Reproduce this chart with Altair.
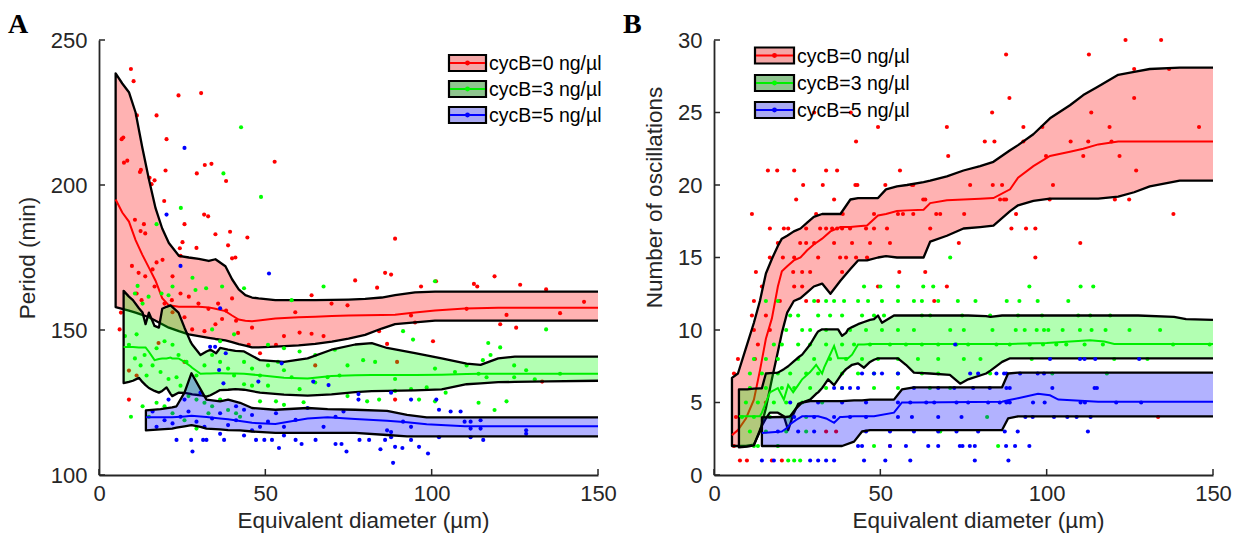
import altair as alt
import pandas as pd

# ---------------- Panel A : period ----------------
A_xticks = [0, 50, 100, 150]
A_yticks = [100, 150, 200, 250]

A_red_band_x = [5, 7, 9, 11, 13, 15, 17, 19, 21, 24, 27, 30, 33, 35, 38, 40, 42, 44, 46, 48, 53, 60, 65, 70, 75, 80, 85, 89, 95, 101, 110, 120, 130, 140, 150]
A_red_up = [238.5, 235, 232, 225, 213, 202, 192, 185, 180, 175.6, 175, 174.5, 173.8, 174.4, 172, 167.5, 164, 162, 161.2, 160.9, 160.3, 160.3, 160.3, 160.4, 160.5, 160.7, 161.2, 162, 163, 163.2, 163.2, 163.2, 163.2, 163.2, 163.2]
A_red_lo = [157.9, 157.3, 156.7, 156, 155.2, 154.4, 153.2, 152, 150.8, 149.6, 148.5, 147.9, 147.3, 146.9, 146.4, 145.8, 145.1, 144.6, 144, 144, 144.3, 144.7, 145.2, 146, 147, 148.3, 150.5, 152, 152.6, 153.2, 153.2, 153.2, 153.2, 153.2, 153.2]
A_red_med = [195, 190.5, 187.4, 181, 176, 171.5, 167, 161, 158.5, 158, 158, 158, 157.8, 157.3, 156.5, 155, 153.6, 153.2, 153, 153.3, 154, 154.4, 154.6, 154.8, 155, 155.1, 155.2, 155.3, 156, 156.7, 157.4, 157.7, 157.7, 157.7, 157.7]

A_green_band_x = [7.4, 9, 10.2, 12, 13.1, 14, 15, 16.7, 18, 19, 20.3, 21.5, 22, 23.9, 25.7, 27.5, 28, 30.5, 32.3, 33.5, 35.2, 36.4, 38.8, 41, 43.6, 48.4, 55.6, 62.7, 69.9, 77, 82, 86.6, 95, 103, 110.5, 114.7, 120, 125, 135, 150]
A_green_up = [163.5, 161.5, 160.3, 157.5, 156, 152, 156, 151.4, 150.8, 157.3, 158, 158.5, 158, 156, 150.8, 146, 145, 141.4, 142.6, 143.2, 142, 143.8, 143.2, 142.8, 142.6, 139.6, 139, 140.2, 143.2, 145, 145.5, 143.8, 142, 140.2, 138.4, 138, 140.2, 140.8, 140.8, 140.8]
A_green_lo = [131.7, 132.1, 132.5, 133.5, 132, 131, 130, 129, 128.4, 129, 130.2, 128, 127.2, 128.4, 128.3, 128, 127.8, 127.5, 127, 127.5, 128.5, 129.3, 129.4, 129.6, 129.4, 128.4, 127.7, 127.4, 127.8, 128.6, 128.9, 129, 129.2, 129.5, 131.3, 131.6, 132, 132.1, 132.3, 132.5]
A_green_med = [144.1, 144.1, 144.1, 144, 144, 144, 142.5, 139.6, 140, 140.2, 140.2, 140.5, 140.2, 140.2, 139, 137.5, 137, 134.9, 135, 135, 135.1, 135.1, 135, 135, 134.9, 134.4, 133.5, 133.3, 134.1, 134.4, 134.5, 134.5, 134.5, 134.6, 134.8, 134.9, 134.9, 134.9, 134.9, 134.9]

A_blue_band_x = [14.1, 18.5, 22, 23.3, 25.7, 27.8, 30.5, 32.3, 36.4, 38.8, 42.4, 46, 53, 62.7, 68.7, 77, 86.6, 92.6, 98.5, 110, 130, 150]
A_blue_up = [122.3, 122.7, 123.3, 123.7, 128.4, 135.1, 129.6, 126, 125.4, 126, 124.9, 123.1, 122.5, 123.1, 122.7, 122.5, 122.1, 120.7, 119.9, 119.9, 119.9, 119.9]
A_blue_lo = [115.4, 115.7, 116, 116.3, 116.8, 117.2, 116.6, 116, 115.7, 115.5, 115.4, 115, 114.5, 114.5, 114.5, 114.5, 113.8, 113.3, 113.3, 113.3, 113.3, 113.3]
A_blue_med = [119.9, 119.9, 119.9, 120, 120.2, 120.4, 120.2, 120, 119.5, 119.2, 118.6, 118, 117.6, 119.5, 119.9, 119.3, 118.7, 118.2, 117.5, 116.8, 116.8, 116.8]

A_red_pts_x = [9.6, 10.4, 11.4, 6.8, 7.5, 12.3, 15.2, 16.7, 17.3, 20.3, 20, 19.6, 23.9, 30.7, 29.4, 31.8, 33.8, 38.2, 52.8, 31.6, 32.8, 35, 39.4, 44.6, 38.8, 40, 41, 25.7, 25.1, 24.3, 29.3, 24.5, 10.8, 13.5, 12.5, 13.9, 9.9, 11.9, 13.9, 16.7, 11.3, 12.8, 6.6, 6.2, 9, 89, 86, 87.8, 77, 83.6, 96.8, 101.3, 118.9, 112.7, 113.7, 126.6, 134.4, 145.8, 138.6, 122.5, 120.6, 125.4, 110.5, 100.4, 93.8, 95, 86.6, 84.2, 74.7, 69.9, 63.9, 59, 60.3, 63.9, 67.5, 55.6, 53.2, 48.4, 46, 41.2, 37, 35, 31.7, 28, 27, 24.5, 21.9, 19.7, 22.1, 25.7, 29.9, 32.9, 35.8, 38.2, 40, 17.3, 16.1, 19.1, 22.1, 41.8, 45, 89, 9, 11.3, 17.9, 25.7, 65, 89.6, 133.2, 7.3, 8.5, 12.6, 15.8]
A_red_pts_y = [240, 235.8, 224, 215.8, 207.7, 204.5, 202.5, 201.6, 224, 215.8, 205, 194.5, 230.9, 231.7, 204, 206.9, 207.3, 201.4, 208, 189.8, 189.2, 183, 183.9, 181.9, 179.2, 174.7, 175, 186.5, 180.3, 178.2, 178.3, 175.6, 188, 186.5, 184.1, 183.3, 172.1, 169.7, 168.5, 165, 162.6, 160.3, 156, 150.2, 126, 181.5, 169.7, 169.1, 167.1, 164.6, 165, 166.8, 168.5, 165.9, 165, 165.6, 164, 159.7, 155.8, 155.2, 152, 150.8, 157.3, 146.1, 155, 152.6, 145.2, 149.6, 158.5, 159.1, 162, 156.1, 149.1, 148.7, 147.9, 147.9, 144.9, 142, 150.8, 153.2, 153.8, 152, 149.6, 150.2, 161.5, 162.6, 160.3, 159.1, 156.1, 154.4, 159.1, 157.3, 159.1, 156.7, 160.9, 173.3, 170.9, 174.2, 168.5, 149, 144.9, 126, 136, 134.3, 145.5, 139, 137.8, 139, 132.2, 216.4, 208.4, 205.2, 200.3]

A_green_pts_x = [42.7, 37.4, 48.7, 24.6, 17.3, 11.6, 10.8, 13.1, 14.9, 18.8, 20.9, 22.1, 28.1, 29, 32.2, 37, 43.6, 57.9, 67.5, 101, 134.4, 91.4, 94.4, 117, 120.6, 117.7, 115.4, 110.5, 101, 107, 124.8, 114.1, 116.5, 128.4, 138.6, 131, 124.8, 122.5, 118.9, 114.1, 101, 96.2, 98.5, 89, 83, 79.4, 74.7, 72.3, 68.7, 65, 60.3, 57.9, 55.6, 53.8, 50.8, 48.4, 46, 43.6, 40.6, 38.8, 36.4, 34, 31.7, 29.3, 26.3, 23.9, 22.1, 19.7, 17.3, 16.1, 14.3, 12.5, 10.8, 9, 7.8, 11.3, 13.7, 18.5, 20.9, 23.3, 24.5, 26.9, 29.3, 31.7, 34, 36.4, 38.8, 41.2, 42.4, 32.9, 29.3, 25.7, 22.1, 19.7, 17.3, 15, 13.1, 9.6, 53.2, 55.6, 48.4, 61.5, 80.6, 84.2, 74.7, 89, 93.8, 104.2, 50.8, 55.6, 40.6, 36.4, 34, 43.6, 46, 50.8, 60.3, 65, 70.9]
A_green_pts_y = [219.9, 204, 195.9, 192.1, 186.5, 165.2, 162.6, 159.1, 161.5, 162.6, 162, 165, 168, 163.8, 164.4, 165, 164.4, 160.3, 165, 166.8, 150.2, 149.6, 146.7, 145.5, 144, 141.4, 139.6, 137.8, 136.7, 135.5, 137.8, 134.9, 133.7, 136.1, 134.9, 133, 133.7, 125.4, 122.4, 124.9, 125.4, 126, 130.2, 133.1, 139, 139.6, 137.8, 134.3, 133.7, 131.9, 129.6, 133.7, 136.1, 139, 137.8, 134.3, 136.7, 131.3, 134.3, 136.7, 139, 141.4, 137.8, 134.3, 139, 141.4, 144.9, 146.1, 143.7, 137.8, 134.3, 137.8, 140.2, 144.9, 147.9, 148.5, 141.4, 135.5, 133.1, 133.7, 130.8, 127.2, 126, 124.9, 123.7, 126, 122.4, 121.3, 120.1, 121.3, 116, 118.9, 121.3, 123.7, 124.9, 120.1, 123.7, 120.1, 125.4, 124.2, 125.4, 125.1, 125.4, 126, 127.2, 129, 129.6, 128.4, 144.9, 143.7, 148.5, 146.1, 150.2, 139, 130.8, 130.8, 142.6, 141.4, 143.2]

A_blue_pts_x = [25.7, 20.3, 51.1, 24.5, 36.4, 33.4, 34.9, 38.1, 36.1, 37.4, 54.9, 47.9, 64.4, 69, 23.3, 27.7, 28.1, 31.3, 32.3, 37.6, 43.6, 47.2, 49.7, 52, 54.1, 55.6, 59.1, 60.9, 65.1, 71.1, 72.9, 74.4, 78.3, 81.2, 84.6, 86, 87.8, 88.4, 89, 91.2, 93.8, 96.2, 98.9, 102.2, 111.7, 115.5, 128.4, 128.4, 78, 78, 87.8, 93.8, 101.4, 105.7, 108.7, 102.2, 109.9, 111.7, 114.7, 114.7, 111.7, 91.4, 93.8, 86.6, 87.8, 73.5, 71.1, 67.5, 62.7, 59.1, 55.6, 53.2, 50.8, 48.4, 46, 43.6, 41.2, 38.8, 36.4, 34, 31.7, 29.3, 26.9, 24.5, 22.1, 19.7, 17.3, 16.1, 25.7, 30.5, 20.9, 41.2, 46, 36.4]
A_blue_pts_y = [212.8, 189.8, 169.5, 172.1, 157.5, 144.2, 144.2, 142, 136.2, 131.6, 138.5, 132.2, 132.2, 131, 112.1, 112.1, 108.1, 112.1, 112.1, 112.1, 113.6, 112.1, 112.1, 112.1, 109.3, 113.6, 112.1, 110.7, 112.1, 110.7, 110.7, 108.1, 112.1, 112.1, 108.9, 112.1, 113, 104.2, 109.7, 109.3, 112.1, 109.7, 107.4, 113, 113, 112.1, 114.2, 115.4, 127.9, 126, 128.4, 126, 126, 121.9, 121.9, 122.5, 118.4, 118.4, 118.9, 116, 116, 118.4, 116.6, 115.4, 114.8, 121.9, 120.1, 116.6, 123.1, 119, 116.6, 121.3, 118.4, 116.6, 120.7, 122.5, 118.9, 117.2, 121.3, 119.5, 116.6, 118.4, 121.9, 120.1, 117.8, 118.9, 116.6, 121.9, 126, 128.4, 126, 123.7, 115.4, 114.2]

# ---------------- Panel B : number of oscillations ----------------
B_xticks = [0, 50, 100, 150]
B_yticks = [0, 5, 10, 15, 20, 25, 30]

B_red_band_x = [5.4, 7.2, 9.6, 12, 13.8, 15.6, 17.4, 19.2, 20.4, 22, 24, 26, 28, 30, 32.5, 35, 38, 41, 43.3, 46, 49.3, 51.7, 55, 58, 63, 65, 70, 75, 80, 84, 89, 91.4, 96, 101, 107, 111, 115.5, 121.5, 126.3, 131, 140, 150]
B_red_up = [6.7, 7.0, 8.75, 10.5, 12.0, 13.9, 14.9, 15.8, 16.3, 16.5, 16.8, 17.0, 17.4, 17.8, 18.0, 18.0, 18.0, 19.0, 19.1, 19.1, 19.1, 19.7, 19.9, 20.0, 20.2, 20.3, 20.6, 21.0, 21.3, 21.6, 22.4, 22.75, 23.5, 24.6, 25.5, 26.2, 26.8, 27.6, 27.8, 28.0, 28.1, 28.1]
B_red_lo = [2.0, 2.0, 2.0, 2.1, 3.0, 4.6, 6.6, 8.5, 9.8, 11.2, 12.0, 12.2, 12.6, 13.0, 13.2, 12.5, 13.4, 14.2, 14.8, 14.8, 15.0, 15.1, 15.0, 15.0, 15.0, 16.1, 16.5, 17.0, 17.1, 17.2, 18.2, 18.6, 18.9, 19.06, 19.06, 19.06, 19.06, 19.2, 19.5, 19.9, 20.3, 20.3]
B_red_med = [2.75, 3.1, 3.9, 5.2, 7.2, 9.4, 10.8, 13.0, 14.05, 14.4, 14.8, 15.0, 15.5, 15.9, 16.3, 16.8, 17.1, 17.1, 17.15, 17.2, 17.9, 18.0, 18.2, 18.25, 18.3, 18.75, 18.95, 19.0, 19.05, 19.1, 19.7, 20.5, 21.3, 22.0, 22.3, 22.5, 22.8, 23.0, 23.0, 23.0, 23.0, 23.0]

B_green_band_x = [7.5, 10, 12, 13.8, 14.4, 15.6, 16.8, 19.2, 21, 22.3, 23.8, 25.3, 26.5, 28.9, 30.7, 31.3, 32.5, 33.1, 34.3, 36.1, 37.3, 38.5, 39.7, 40.3, 41.5, 43.3, 45.1, 46.9, 48.1, 49.3, 50.5, 54.1, 55.3, 57.7, 60.1, 64.9, 70.9, 74, 76.4, 81.8, 83.1, 86.6, 89, 100, 113, 117.3, 120.3, 127.5, 138.3, 141.9, 150]
B_green_up = [5.9, 5.9, 5.95, 5.98, 5.98, 7.0, 7.03, 7.06, 7.3, 7.5, 7.8, 8.1, 8.3, 9.0, 9.7, 9.9, 10.05, 10.05, 10.05, 10.05, 10.05, 9.6, 9.8, 10.05, 10.2, 10.4, 10.55, 10.7, 10.75, 11.0, 10.5, 11.0, 11.0, 11.0, 11.0, 11.0, 11.0, 11.0, 11.0, 10.95, 10.9, 11.0, 11.0, 11.0, 11.0, 11.0, 11.0, 11.0, 10.9, 10.75, 10.7]
B_green_lo = [1.9, 1.95, 2.05, 3.1, 3.4, 3.9, 4.3, 4.3, 4.05, 3.1, 4.15, 4.9, 5.0, 5.2, 5.6, 5.7, 6.0, 6.2, 6.6, 6.2, 6.6, 7.0, 7.3, 7.4, 7.6, 7.7, 7.4, 7.8, 7.95, 8.05, 8.05, 8.05, 8.05, 7.6, 7.06, 7.0, 6.9, 6.3, 6.6, 7.0, 7.2, 7.8, 8.05, 8.05, 8.05, 8.05, 8.05, 8.05, 8.05, 8.05, 8.05]
B_green_med = [4.05, 4.05, 4.05, 4.05, 4.3, 5.0, 5.7, 6.0, 5.2, 6.2, 5.7, 6.2, 6.6, 7.1, 7.6, 7.4, 7.0, 7.4, 8.0, 8.9, 8.05, 8.05, 8.05, 8.05, 8.3, 9.0, 9.0, 9.04, 9.04, 9.04, 9.04, 9.04, 9.04, 9.04, 9.04, 9.04, 9.04, 9.04, 9.04, 9.04, 9.04, 9.04, 9.04, 9.1, 9.3, 9.2, 9.04, 9.04, 9.04, 9.04, 9.04]

B_blue_band_x = [14.4, 20.4, 21.7, 22.9, 24.7, 26.5, 28.9, 31.3, 33.7, 36.1, 37.9, 38.5, 42.1, 44.5, 46.9, 48.1, 54.1, 56.5, 60.1, 86.6, 88.4, 91.4, 97.4, 101, 103.5, 115.5, 150]
B_blue_up = [3.98, 4.0, 4.0, 4.05, 4.6, 5.0, 5.1, 5.1, 5.1, 5.1, 5.1, 5.1, 5.15, 5.15, 5.2, 5.2, 5.2, 5.9, 6.05, 6.05, 7.0, 7.06, 7.06, 7.06, 7.06, 7.06, 7.06]
B_blue_lo = [2.0, 2.0, 2.0, 2.0, 2.0, 2.0, 2.0, 2.0, 2.0, 2.0, 2.0, 2.0, 2.3, 3.0, 3.1, 3.1, 3.1, 3.1, 3.1, 3.1, 3.9, 4.05, 4.05, 4.05, 4.05, 4.05, 4.05]
B_blue_med = [2.9, 3.0, 3.2, 3.5, 3.8, 4.05, 4.05, 4.05, 3.9, 3.6, 4.0, 4.0, 4.05, 4.05, 4.05, 4.05, 4.3, 5.0, 5.0, 5.05, 5.15, 5.3, 5.6, 5.5, 5.2, 5.05, 5.05]

# scatter points of panel B: oscillation count -> diameters
B_red_rows = {
    30: [123.7, 134.4], 29: [87.8, 112.7], 28: [126.3, 136.8], 26: [88.8, 126.3],
    25: [30.1, 41.1, 83.6, 113.4], 24: [49.3, 70.0, 93.0, 98.7, 118.9, 145.8],
    23: [42.7, 81.4, 84.3, 93.0, 107.2, 112.5, 119.5], 22: [70.4, 99.8, 111.0, 121.9],
    21: [16.2, 19.0, 24.1, 33.7, 37.0, 55.9, 126.9],
    20: [26.8, 32.7, 42.5, 43.1, 51.5, 59.5, 59.9, 77.0, 83.8, 86.6, 101.9],
    19: [24.7, 36.1, 62.9, 63.5, 86.0, 87.2, 87.8, 100.9, 120.5, 124.8],
    18: [11.4, 30.7, 38.7, 48.1, 55.3, 56.8, 59.9, 66.8, 68.0, 75.2, 90.8, 138.1],
    17: [16.8, 21.0, 22.3, 27.7, 31.9, 33.7, 35.5, 37.0, 38.5, 40.9, 45.7, 48.1, 52.0, 65.0, 89.4, 93.8, 96.6],
    16: [19.2, 25.9, 27.7, 30.1, 36.1, 41.5, 46.9, 52.9, 73.6, 110.1],
    15: [16.8, 20.7, 24.1, 31.3, 37.9, 39.7, 42.7, 46.0, 96.6],
    14: [12.6, 23.8, 26.5, 28.9, 38.5, 55.7, 63.5], 13: [14.4, 24.1, 26.5, 49.3, 70.0],
    12: [12.0, 19.8, 27.7, 31.3, 66.2], 11: [11.4, 15.6], 10: [12.0, 16.8], 9: [13.2],
    8: [7.2, 12.3], 7: [6.0], 5: [15.6], 4: [6.6, 133.5], 3: [33.7, 36.7], 2: [6.0, 52.9],
    1: [7.8, 9.9, 17.4, 20.4],
}
B_green_rows = {
    15: [71.0],
    13: [45.1, 50.0, 55.3, 62.9, 65.9, 94.8, 110.2, 114.0],
    12: [15.6, 19.2, 30.1, 33.7, 36.1, 39.1, 43.3, 46.3, 50.5, 55.3, 60.1, 62.5, 67.4, 73.3, 78.6, 88.0, 91.8, 97.3, 106.5],
    11: [22.9, 25.3, 31.3, 34.9, 38.5, 44.5, 48.1, 51.1, 62.5, 65.0, 74.6, 83.0, 91.4, 98.6, 109.5, 113.1, 119.1],
    10: [21.7, 26.5, 28.9, 33.7, 40.9, 45.7, 50.5, 55.3, 60.1, 71.0, 75.1, 83.7, 90.7, 93.4, 97.0, 99.2, 100.5, 104.8, 110.0, 113.5, 117.7, 124.9, 134.1],
    9: [18.0, 20.4, 25.3, 28.9, 33.7, 38.5, 42.1, 46.9, 52.9, 57.7, 62.5, 67.4, 72.9, 76.4, 84.9, 88.9, 94.9, 98.9, 102.9, 105.9, 111.4, 116.9, 138.0, 149.0],
    8: [12.0, 15.6, 19.2, 25.3, 30.1, 34.9, 39.7, 44.5, 49.3, 55.3, 61.3, 67.4, 75.1, 80.1, 95.5, 120.3, 130.3],
    7: [10.8, 14.4, 19.2, 22.9, 27.7, 31.3, 38.5, 43.3, 48.1, 55.3, 62.5, 67.4, 83.0, 101.7, 118.1],
    6: [10.8, 15.6, 20.4, 24.1, 28.9, 33.7, 38.5, 48.1, 55.3, 64.9, 71.0],
    5: [9.6, 13.2, 18.0, 21.7, 26.5, 32.5],
    4: [8.4, 12.0, 16.8, 22.9, 27.7, 82.1],
    3: [10.8, 15.6, 21.7, 27.7, 68.0],
    2: [12.0, 13.2, 19.2, 48.1, 85.4],
    1: [22.3, 24.1, 25.9],
}
B_blue_rows = {
    9: [72.5],
    8: [101.0, 110.0, 111.4, 114.6, 127.8],
    7: [44.5, 48.1, 50.5, 55.3, 77.0, 79.4, 84.9, 87.2, 87.9, 92.0, 97.3, 99.2],
    6: [36.1, 38.5, 40.9, 43.3, 60.1, 67.4, 72.2, 77.9, 82.9, 87.9, 88.9, 101.7, 114.4, 115.1],
    5: [22.9, 31.3, 38.5, 45.7, 55.3, 59.0, 63.8, 66.2, 72.9, 76.4, 82.4, 85.9, 87.9, 88.9, 95.9, 99.4, 110.2, 111.5, 120.9, 128.4],
    4: [24.1, 30.1, 36.1, 40.9, 45.7, 55.3, 59.5, 67.4, 74.4, 93.6, 95.8, 102.2, 106.2, 109.0, 113.2],
    3: [19.2, 25.3, 30.1, 45.7, 52.9, 60.1, 67.4, 72.9, 79.4, 87.4, 91.3, 112.4],
    2: [43.3, 44.5, 52.9, 57.7, 64.4, 67.4, 73.9, 74.7, 76.9, 78.4, 87.8, 90.5, 94.8],
    1: [14.4, 18.0, 28.9, 31.3, 33.7, 36.1, 45.1, 51.5, 59.0, 78.4, 88.5],
}

legend_labels = ["cycB=0 ng/\u00b5l", "cycB=3 ng/\u00b5l", "cycB=5 ng/\u00b5l"]

# ---------------- styling ----------------
W, H = 499, 435
FONT = "Liberation Sans"
AX = "#262626"
LINE_COLORS = ["#ff0000", "#00ee00", "#0000ff"]
PT_COLORS = ["#ff0000", "#00ff00", "#0000ff"]
BAND_FILL = ["#ff0000", "#00ff00", "#0000ff"]
SWATCH_FILL = ["#f4a7a7", "#8fc58f", "#a9a9f3"]


def make_axis(values, title, is_x, title_pos=None):
    kw = dict(values=values, format="d", ticks=False, grid=False, title=title,
              domainColor=AX, domainWidth=1.8, labelFont=FONT, labelFontSize=22,
              labelColor=AX, titleFont=FONT, titleFontSize=22.5, titleFontWeight="normal",
              titleColor=AX, labelFlush=False, labelOverlap=False)
    if is_x:
        kw.update(labelPadding=8, titlePadding=5, titleX=264)
    else:
        kw.update(labelPadding=12, titlePadding=11)
        if title_pos is not None:
            kw.update(titleY=title_pos)
    return alt.Axis(**kw)


def panel(letter, xdom, ydom, xticks, yticks, ytitle, bands, points, leg, ytitle_pos=None):
    xs = alt.Scale(domain=xdom, nice=False, zero=False)
    ys = alt.Scale(domain=ydom, nice=False, zero=False)
    xa = make_axis(xticks, "Equivalent diameter (\u00b5m)", True)
    ya = make_axis(yticks, ytitle, False, ytitle_pos)

    def X(f):
        return alt.X(f, type="quantitative", scale=xs, axis=xa)

    def Y(f):
        return alt.Y(f, type="quantitative", scale=ys, axis=ya)

    layers = []
    for i, ((bx, up, lo, med), (px, py)) in enumerate(zip(bands, points)):
        pdf = pd.DataFrame({"x": px, "y": py})
        layers.append(alt.Chart(pdf).mark_circle(size=17, opacity=1, color=PT_COLORS[i]).encode(x=X("x"), y=Y("y")))
        bdf = pd.DataFrame({"x": bx, "up": up, "lo": lo, "med": med})
        layers.append(alt.Chart(bdf).mark_area(color=BAND_FILL[i], opacity=0.3).encode(
            x=X("x"), y=Y("up"), y2=alt.Y2("lo")))
        odf = pd.DataFrame({"x": list(bx[::-1]) + list(bx), "y": list(lo[::-1]) + list(up),
                            "o": list(range(2 * len(bx)))})
        layers.append(alt.Chart(odf).mark_line(color="black", strokeWidth=2.3, strokeJoin="round").encode(
            x=X("x"), y=Y("y"), order="o:Q"))
        layers.append(alt.Chart(bdf).mark_line(color=LINE_COLORS[i], strokeWidth=2).encode(
            x=X("x"), y=Y("med")))

    # inward ticks
    layers.append(alt.Chart(pd.DataFrame({"v": xticks})).mark_rule(color=AX, strokeWidth=1.5).encode(
        x=X("v"), y=alt.value(H), y2=alt.value(H - 6)))
    layers.append(alt.Chart(pd.DataFrame({"v": yticks})).mark_rule(color=AX, strokeWidth=1.5).encode(
        y=Y("v"), x=alt.value(0), x2=alt.value(6)))

    # legend
    x0, x1, ycs = leg
    one = pd.DataFrame({"t": [""]})
    for i, yc in enumerate(ycs):
        layers.append(alt.Chart(one).mark_rect(fill=SWATCH_FILL[i], stroke="black", strokeWidth=2.2).encode(
            x=alt.value(x0), x2=alt.value(x1), y=alt.value(yc - 8), y2=alt.value(yc + 8)))
        layers.append(alt.Chart(one).mark_rule(color=LINE_COLORS[i], strokeWidth=1.8).encode(
            x=alt.value(x0 + 1), x2=alt.value(x1 - 1), y=alt.value(yc)))
        layers.append(alt.Chart(one).mark_circle(size=24, opacity=1, color=PT_COLORS[i]).encode(
            x=alt.value((x0 + x1) / 2), y=alt.value(yc)))
        layers.append(alt.Chart(pd.DataFrame({"t": [legend_labels[i]]})).mark_text(
            align="left", baseline="middle", font=FONT, fontSize=19.5, color="black").encode(
            text="t:N", x=alt.value(x1 + 3), y=alt.value(yc + 1)))

    # panel letter
    layers.append(alt.Chart(pd.DataFrame({"t": [letter]})).mark_text(
        align="left", baseline="top", font="Liberation Serif", fontWeight="bold", fontSize=28,
        color="black").encode(text="t:N", x=alt.value(-91), y=alt.value(-29)))

    return alt.layer(*layers).properties(width=W, height=H)


def flatten(rows):
    xs, ys = [], []
    for k, v in rows.items():
        xs += v
        ys += [k] * len(v)
    return xs, ys


pA = panel(
    "A", [0, 150], [100, 250], A_xticks, A_yticks, "Period (min)",
    [(A_red_band_x, A_red_up, A_red_lo, A_red_med),
     (A_green_band_x, A_green_up, A_green_lo, A_green_med),
     (A_blue_band_x, A_blue_up, A_blue_lo, A_blue_med)],
    [(A_red_pts_x, A_red_pts_y), (A_green_pts_x, A_green_pts_y), (A_blue_pts_x, A_blue_pts_y)],
    (350, 387, [23, 49, 75]))

pB = panel(
    "B", [0, 150], [0, 30], B_xticks, B_yticks, "Number of oscillations",
    [(B_red_band_x, B_red_up, B_red_lo, B_red_med),
     (B_green_band_x, B_green_up, B_green_lo, B_green_med),
     (B_blue_band_x, B_blue_up, B_blue_lo, B_blue_med)],
    [flatten(B_red_rows), flatten(B_green_rows), flatten(B_blue_rows)],
    (41, 80, [15.5, 43, 70]), ytitle_pos=157)

chart = alt.hconcat(pA, pB, spacing=6).properties(
    padding={"left": 8, "top": 11, "right": 5, "bottom": 5},
    background="white",
).configure_view(stroke=None)

chart.save("out.html", embed_options={"renderer": "svg", "actions": False})
